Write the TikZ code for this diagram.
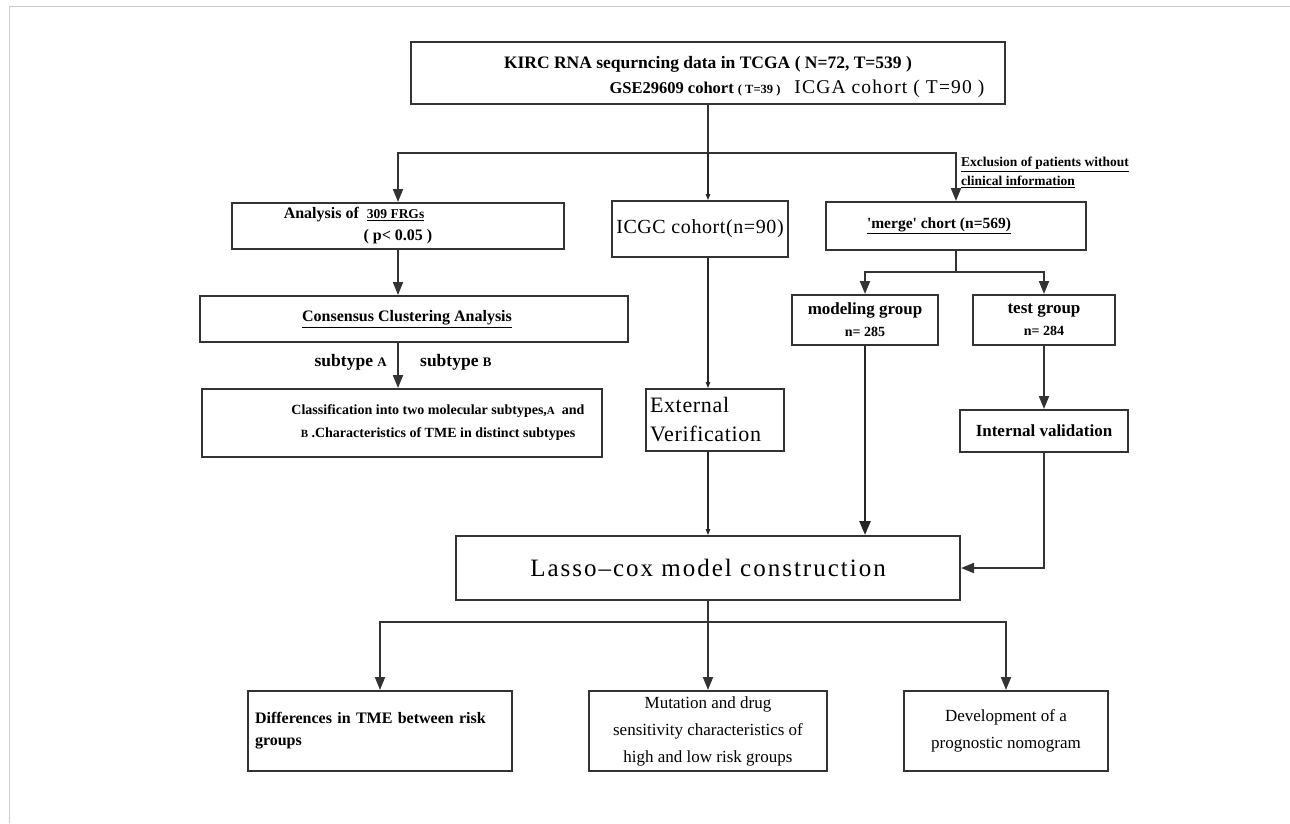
\documentclass[tikz,border=0pt]{standalone}
\usepackage{fontspec}
\setmainfont{Liberation Serif}
\usetikzlibrary{arrows.meta}

\begin{document}
\begin{tikzpicture}[x=1pt, y=-1pt,
  box/.style={draw=black!80, line width=2pt, inner sep=0pt, align=center},
  line/.style={draw=black!80, line width=2pt},
  arr/.style={line, -{Triangle[length=13pt, width=10pt]}},
  thinarr/.style={draw=black!85, line width=1.2pt, -{Triangle[length=6pt, width=4.5pt]}},
  thickarr/.style={draw=black!85, line width=2.6pt, -{Triangle[length=14pt, width=11pt]}},
  lbl/.style={inner sep=0pt, align=left}]
  \useasboundingbox (0,0) rectangle (1290,823);
  % page frame
  \draw[gray!40, line width=0.8pt] (9,823) -- (9,6) -- (1290,6);

  % Data sources
  \node[box, minimum width=594, minimum height=62, font=\fontsize{16.5}{25}\selectfont\bfseries] (top) at (708,73)
    {\rule{0pt}{21pt}{\fontsize{17.5}{25}\selectfont KIRC RNA sequrncing data in TCGA ( N=72, T=539 )}\\
     \hspace*{178pt}GSE29609 cohort {\fontsize{12.5}{14}\selectfont( T=39 )}\hspace{14pt}{\mdseries\fontsize{19.5}{25}\selectfont\addfontfeature{LetterSpace=6}ICGA cohort ( T=90 )}};

  % Second row
  \node[box, minimum width=332, minimum height=46, font=\fontsize{16}{22}\selectfont\bfseries] (analysis) at (398,226)
    {Analysis of\ \ {\fontsize{13.5}{22}\selectfont\underline{309 FRGs}}\hspace*{88pt}\\ ( p< 0.05 )};
  \node[box, minimum width=176, minimum height=56, font=\fontsize{20}{22}\selectfont\addfontfeature{LetterSpace=3}] (icgc) at (700,229) {ICGC cohort(n=90)};
  \node[box, minimum width=260, minimum height=48, font=\fontsize{15.5}{18}\selectfont\bfseries] (merge) at (956,226)
    {\underline{\textquotesingle merge\textquotesingle\ chort (n=569)}\hspace*{34pt}};
  \node[lbl, anchor=north west, font=\fontsize{13.5}{19}\selectfont\bfseries] (excl) at (961,157)
    {\underline{Exclusion of patients without}\\ \underline{clinical information}};

  % Left column
  \node[box, minimum width=428, minimum height=46, font=\fontsize{16}{18}\selectfont\bfseries] (consensus) at (414,319)
    {\underline{Consensus Clustering Analysis}\hspace*{14pt}};
  \node[lbl, anchor=east, font=\fontsize{17.5}{18}\selectfont\bfseries] (subA) at (387,362) {subtype {\fontsize{13}{13}\selectfont A}};
  \node[lbl, anchor=west, font=\fontsize{17.5}{18}\selectfont\bfseries] (subB) at (420,362) {subtype {\fontsize{13}{13}\selectfont B}};
  \node[box, minimum width=400, minimum height=68, font=\fontsize{14}{23}\selectfont\bfseries] (classif) at (402,423)
    {\hspace*{72pt}Classification into two molecular subtypes,{\fontsize{11}{13}\selectfont A}\ \ and\\
     \hspace*{72pt}{\fontsize{11}{13}\selectfont B}\ .Characteristics of TME in distinct subtypes};

  % Middle column
  \node[box, minimum width=138, minimum height=62, text width=130, align=left, font=\fontsize{22}{29}\selectfont\addfontfeature{LetterSpace=3}] (external) at (715,420)
    {External\\ Verification};

  % Right column
  \node[box, minimum width=146, minimum height=50, font=\fontsize{17}{22}\selectfont\bfseries] (modeling) at (865,320)
    {modeling group\\ {\fontsize{14}{22}\selectfont n= 285}};
  \node[box, minimum width=142, minimum height=50, font=\fontsize{17}{22}\selectfont\bfseries] (test) at (1044,320)
    {test group\\ {\fontsize{14}{22}\selectfont n= 284}};
  \node[box, minimum width=168, minimum height=42, font=\fontsize{17}{20}\selectfont\bfseries] (internal) at (1044,431) {Internal validation};

  % Model
  \node[box, minimum width=504, minimum height=64, font=\fontsize{25}{30}\selectfont\addfontfeature{LetterSpace=8}] (lasso) at (708,568)
    {Lasso–cox model construction};

  % Results
  \node[box, minimum width=264, minimum height=80, text width=250, align=left, font=\fontsize{16}{22}\selectfont\bfseries] (diff) at (380,731)
    {Differences in TME between risk\\ groups};
  \node[box, minimum width=238, minimum height=80, font=\fontsize{17}{27}\selectfont] (mutation) at (708,731)
    {Mutation and drug\\ sensitivity characteristics of\\ high and low risk groups};
  \node[box, minimum width=204, minimum height=80, font=\fontsize{17}{27}\selectfont] (nomogram) at (1006,731)
    {Development of a\\ prognostic nomogram};

  % split points
  \coordinate (split) at (708,153);
  \coordinate (msplit) at (956,272);
  \coordinate (bsplit) at (708,622);

  % Connectors
  \draw[line] (top.south -| split) -- (split);
  \draw[arr] (split) -| (analysis.north);
  \draw[arr] (split) -| (merge.north);
  \draw[thinarr] (split) -- (icgc.north -| split);
  \draw[arr] (analysis.south) -- (analysis.south |- consensus.north);
  \draw[arr] (analysis.south |- consensus.south) -- (analysis.south |- classif.north);
  \draw[thinarr] (icgc.south -| split) -- (external.north -| split);
  \draw[thinarr] (external.south -| split) -- (lasso.north -| split);
  \draw[line] (merge.south) -- (msplit);
  \draw[arr] (msplit) -| (modeling.north);
  \draw[arr] (msplit) -| (test.north);
  \draw[thickarr] (modeling.south) -- (modeling.south |- lasso.north);
  \draw[arr] (test.south) -- (internal.north);
  \draw[arr] (internal.south) |- (lasso.east);
  \draw[line] (lasso.south) -- (bsplit);
  \draw[arr] (bsplit) -| (diff.north);
  \draw[arr] (bsplit) -- (mutation.north);
  \draw[arr] (bsplit) -| (nomogram.north);
\end{tikzpicture}
\end{document}
